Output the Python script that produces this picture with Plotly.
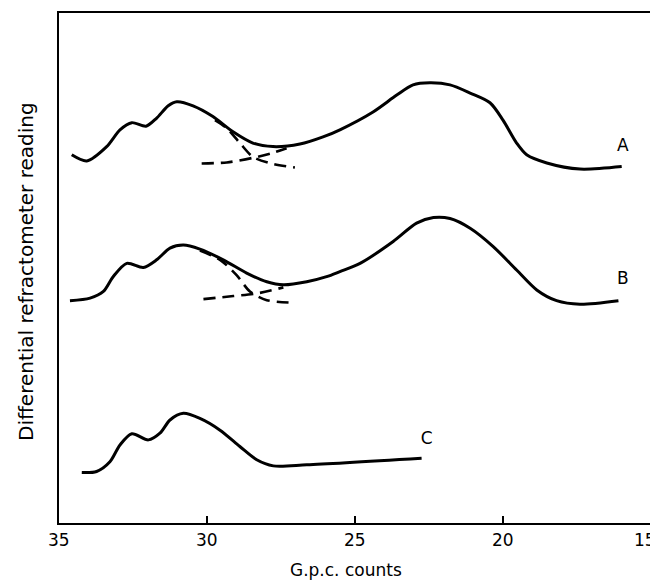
import plotly.graph_objects as go

# ---- data ----
a_x = [34.57, 34.06, 33.39, 32.94, 32.54, 32.06, 31.70, 31.31, 31.02, 30.47, 29.80, 29.12,
       28.45, 27.77, 26.86, 26.08, 25.51, 24.39, 23.59, 23.04, 22.47, 21.79, 21.11, 20.44,
       20.00, 19.54, 19.20, 18.52, 17.40, 15.99]
a_y = [72.2, 71.0, 73.8, 77.1, 78.5, 77.8, 79.4, 81.8, 82.6, 81.8, 79.7, 76.7,
       74.5, 73.8, 74.3, 75.7, 77.1, 80.6, 83.9, 85.9, 86.3, 85.9, 84.3, 82.4,
       79.0, 74.5, 72.2, 70.6, 69.4, 69.9]
a_tail_x = [29.73, 29.33, 28.89, 28.45, 27.77, 27.03]
a_tail_y = [79.0, 77.4, 74.5, 71.8, 70.4, 69.7]
a_base_x = [30.18, 29.33, 28.45, 27.77, 27.31]
a_base_y = [70.5, 70.7, 71.6, 72.6, 73.5]

b_x = [34.63, 33.95, 33.50, 33.17, 32.71, 32.15, 31.70, 31.25, 30.80, 30.24, 29.45, 28.66,
       27.98, 27.42, 26.63, 25.96, 25.51, 24.83, 23.71, 22.92, 22.35, 21.79, 21.11, 20.33,
       19.54, 18.86, 18.19, 17.40, 16.10]
b_y = [43.6, 44.1, 45.4, 48.3, 50.9, 50.1, 51.6, 53.9, 54.5, 53.7, 51.6, 49.0,
       47.3, 46.7, 47.3, 48.3, 49.3, 50.9, 55.2, 58.8, 59.9, 59.7, 57.8, 54.2,
       49.6, 45.7, 43.6, 42.9, 43.6]
b_tail_x = [30.24, 29.56, 29.00, 28.55, 27.98, 27.03]
b_tail_y = [53.4, 51.6, 48.6, 45.4, 43.7, 43.2]
b_base_x = [30.12, 29.11, 28.32, 27.42]
b_base_y = [43.9, 44.5, 45.0, 46.2]

c_x = [34.23, 33.73, 33.28, 32.94, 32.54, 31.98, 31.59, 31.25, 30.80, 30.24, 29.56, 28.89,
       28.32, 27.76, 26.63, 22.75]
c_y = [9.9, 10.1, 12.0, 15.3, 17.5, 16.3, 17.6, 20.2, 21.5, 20.5, 18.2, 15.0,
       12.4, 11.2, 11.4, 12.7]

curve_labels = ["A", "B", "C"]
label_x = [15.95, 15.95, 22.58]
label_y = [73.7, 47.6, 16.3]

x_ticks = [35, 30, 25, 20, 15]
x_title = "G.p.c. counts"
y_title = "Differential refractometer reading"

FONT = "DejaVu Sans"
fig = go.Figure()

solid = dict(color="black", width=3, shape="spline", smoothing=0.8)
dashed = dict(color="black", width=2.6, dash="12px,7px", shape="spline", smoothing=0.8)

for xs, ys in [(a_x, a_y), (b_x, b_y), (c_x, c_y)]:
    fig.add_trace(go.Scatter(x=xs, y=ys, mode="lines", line=solid, showlegend=False))
for xs, ys in [(a_tail_x, a_tail_y), (a_base_x, a_base_y), (b_tail_x, b_tail_y), (b_base_x, b_base_y)]:
    fig.add_trace(go.Scatter(x=xs, y=ys, mode="lines", line=dashed, showlegend=False))

fig.add_trace(go.Scatter(x=label_x, y=label_y, mode="text", text=curve_labels,
                         textfont=dict(family=FONT, size=17, color="black"),
                         showlegend=False))

annotations = []
# tick labels (the last one is kept inside the page edge)
for t in x_ticks:
    last = (t == x_ticks[-1])
    annotations.append(dict(
        text=str(t), xref="x", yref="paper", x=t, y=-0.0333,
        xanchor="right" if last else "center", yanchor="middle",
        xshift=7 if last else 0, showarrow=False,
        font=dict(family=FONT, size=17, color="black")))
annotations.append(dict(text=x_title, xref="paper", yref="paper", x=0.484, y=-0.092,
                        xanchor="center", yanchor="middle", showarrow=False,
                        font=dict(family=FONT, size=17, color="black")))
annotations.append(dict(text=y_title, xref="paper", yref="paper", x=-0.056, y=0.494,
                        xanchor="center", yanchor="middle", showarrow=False, textangle=-90,
                        font=dict(family=FONT, size=20, color="black")))

# page body has an 8px default margin, so the figure is sized to fit the window
fig.update_layout(
    width=650, height=573,
    margin=dict(l=51, r=7, t=5, b=58),
    paper_bgcolor="white", plot_bgcolor="white",
    font=dict(family=FONT, color="black"),
    annotations=annotations,
)
fig.update_xaxes(
    range=[35, 15], tickvals=x_ticks, showticklabels=False,
    ticks="inside", ticklen=7, tickwidth=1.5, tickcolor="black",
    showline=True, linecolor="black", linewidth=2.2, mirror=True,
    showgrid=False, zeroline=False, automargin=False,
)
fig.update_yaxes(
    range=[0, 100], showticklabels=False, ticks="",
    showline=True, linecolor="black", linewidth=2.2, mirror=True,
    showgrid=False, zeroline=False, automargin=False,
)

fig.write_html("out.html")
